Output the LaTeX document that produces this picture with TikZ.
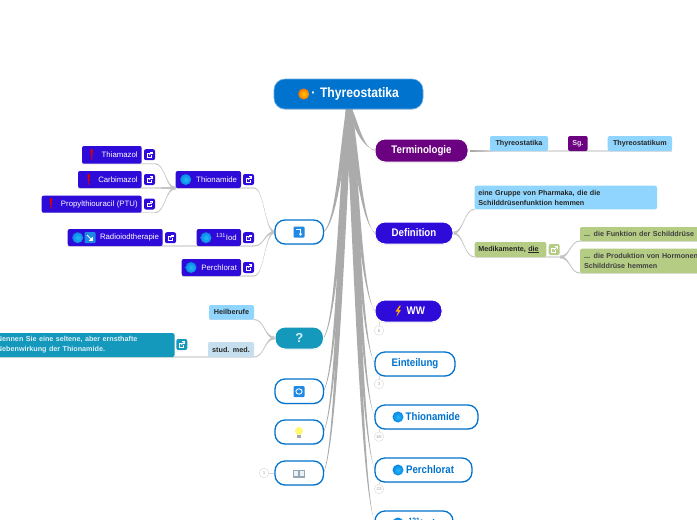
\documentclass[tikz,border=0pt]{standalone}
\usepackage{fontspec}
\setmainfont{Liberation Sans}
\newfontfamily\nb[FakeStretch=0.88]{Liberation Sans}
\usetikzlibrary{calc,shadows}
\pgfdeclarelayer{bg}
\pgfsetlayers{bg,main}
\definecolor{cRoot}{HTML}{0073CF}
\definecolor{cPurple}{HTML}{6B0080}
\definecolor{cIndigo}{HTML}{2E0BD9}
\definecolor{cTeal}{HTML}{1498BC}
\definecolor{cSky}{HTML}{90D5FD}
\definecolor{cPale}{HTML}{C5DFEE}
\definecolor{cGreen}{HTML}{B5CC84}
\definecolor{cFan}{HTML}{ABABAB}
\definecolor{cSub}{HTML}{C4C4C4}
\definecolor{cIcon}{HTML}{1E88E5}
\definecolor{cBall}{HTML}{0A86E4}
\definecolor{cBallIn}{HTML}{22B8F8}
\tikzset{
  x=1pt,y=-1pt,
  base/.style={outer sep=0pt,rounded corners=#1},
  base/.default=2pt,
  bigfont/.style={font=\nb\bfseries\fontsize{11}{13}\selectfont},
  main/.style={base=10pt,draw=white,line width=1pt,text=white,bigfont,align=center,
    drop shadow={opacity=.18,shadow xshift=0pt,shadow yshift=-1pt}},
  outl/.style={base=10pt,draw=cRoot,fill=white,line width=1.3pt,text=cRoot,bigfont,align=center,
    drop shadow={opacity=.15,shadow xshift=0pt,shadow yshift=-1pt}},
  leaf/.style={base=2pt,fill=cIndigo,text=white,align=right,font=\fontsize{7.8}{9}\selectfont},
  note/.style={base=2pt,text=black!85,align=left,font=\bfseries\fontsize{7.2}{10}\selectfont},
  extbox/.style={base=2pt,minimum size=11pt,inner sep=0pt,outer sep=0pt},
  count/.style={circle,draw=black!15,fill=white,text=black!35,minimum size=9.5pt,inner sep=0pt,
    font=\fontsize{4.5}{5}\selectfont},
  under/.style={draw=black!13,line width=1.2pt},
  stub/.style={draw=black!15,line width=.8pt},
}
\newcommand\bx[8]{%
  \pgfmathsetmacro\bw{#5-#3}\pgfmathsetmacro\bh{#6-#4}%
  \pgfmathsetmacro\cx{(#3+#5)/2}\pgfmathsetmacro\cy{(#4+#6)/2}%
  \pgfmathsetmacro\tw{#5-#3-2*#7}%
  \node[#1,minimum width=\bw pt,minimum height=\bh pt,inner xsep=#7 pt,inner ysep=0pt,text width=\tw pt] (#2) at (\cx,\cy) {#8};}
% tapered trunk from (#1) to (#2)
\newcommand\fan[2]{%
  \fill[cFan] let \p1=(#1),\p2=(#2),\n1={\x2-\x1},\n2={\y2-\y1} in
    (\x1-3pt,\y1) .. controls (\x1+0.3*\n1-2.6pt,\y1+0.4*\n2) and (\x2-0.5*\n1-.9pt,\y2-0.08*\n2) .. (\x2,\y2+.5pt)
    -- (\x2,\y2-.5pt) .. controls (\x2-0.5*\n1+.9pt,\y2-0.08*\n2) and (\x1+0.3*\n1+2.6pt,\y1+0.4*\n2) .. (\x1+3pt,\y1) -- cycle;}
% tapered side branch with horizontal ends
\newcommand\branch[2]{%
  \fill[cSub] let \p1=(#1),\p2=(#2),\n1={(\x1+\x2)/2} in
    (\x1,\y1+1.3pt) .. controls (\n1,\y1+1pt) and (\n1,\y2+.5pt) .. (\x2,\y2+.5pt)
    -- (\x2,\y2-.5pt) .. controls (\n1,\y2-.5pt) and (\n1,\y1-1pt) .. (\x1,\y1-1.3pt) -- cycle;}
\newcommand\extlink[4]{% name,cx,cy,colour
  \node[extbox,fill=#4] (#1) at (#2,#3) {};
  \draw[white,line width=.5pt] (#2+2.2,#3-1.2) -- (#2-2.5,#3-1.2) -- (#2-2.5,#3+2.6) -- (#2+1.5,#3+2.6) -- (#2+1.5,#3+.6);
  \draw[white,line width=.6pt] (#2-.6,#3+.6) -- (#2+2.8,#3-2.8);
  \draw[white,line width=.5pt] (#2+.6,#3-2.8) -- (#2+2.8,#3-2.8) -- (#2+2.8,#3-.8);}
\newcommand\ball[2]{\shade[inner color=cBallIn,outer color=cBall] (#1,#2) circle (5.5pt);}
\newcommand\bang[2]{%
  \fill[red!85!black] (#1-1.3,#2-5.6) -- (#1+1.3,#2-5.6) -- (#1+.6,#2+1.8) -- (#1-.6,#2+1.8) -- cycle;
  \fill[red!85!black] (#1,#2+3.8) circle (1.1pt);}
\begin{document}
\begin{tikzpicture}
\useasboundingbox (0,0) rectangle (697,520);
\clip (0,0) rectangle (697,520);
\begin{pgfonlayer}{bg}
\fill[white] (0,0) rectangle (697,520);
\end{pgfonlayer}
% main nodes
\bx{main,fill=cRoot,font=\nb\bfseries\fontsize{13.8}{15}\selectfont,align=right,base=11pt,draw=cRoot!60!white,line width=.6pt}{root}{274}{79}{423}{109}{24}{· Thyreostatika}
\bx{main,fill=cPurple}{term}{375}{139}{468}{162}{2}{Terminologie}
\bx{main,fill=cIndigo}{defi}{375}{222}{453}{244}{2}{Definition}
\bx{main,fill=cIndigo,align=right}{ww}{375}{300}{442}{322}{17}{WW}
\bx{outl}{eint}{375}{352}{455}{376}{2}{Einteilung}
\bx{outl,align=right}{thio}{375}{405}{478}{429}{18}{Thionamide}
\bx{outl,align=right}{perc}{375}{458}{472}{482}{18}{Perchlorat}
\bx{outl,align=right}{iod}{375}{511}{453}{535}{18}{\textsuperscript{131}Iod}
\bx{outl}{arrowb}{275}{220}{323.5}{244}{2}{}
\bx{main,fill=cTeal,text=white!85!cTeal,font=\bfseries\fontsize{13}{15}\selectfont}{quest}{275}{327}{323.5}{349}{2}{?}
\bx{outl}{cycleb}{275}{379}{323.5}{403.5}{2}{}
\bx{outl}{bulbb}{275}{420}{323.5}{444}{2}{}
\bx{outl}{bookb}{275}{461}{323.5}{485}{2}{}
% terminology row
\bx{note,fill=cSky,align=center}{syna}{490}{136}{548}{151}{1}{Thyreostatika}
\bx{note,fill=cPurple,text=white!85!cPurple,align=center}{synb}{568}{136}{587.7}{151}{1}{Sg.}
\bx{note,fill=cSky,align=center}{sync}{607.7}{136}{672}{151}{1}{Thyreostatikum}
% definition
\bx{note,fill=cSky}{dgrp}{474.7}{185.7}{657}{209.3}{3.6}{eine Gruppe von Pharmaka, die die\\Schilddrüsenfunktion hemmen}
\bx{note,fill=cGreen}{dmed}{474.7}{242}{546.3}{257}{3.6}{Medikamente, \underline{die}}
\extlink{dmedx}{554.2}{249.5}{cGreen}
\bx{note,fill=cGreen,text=black!75}{dfun}{580}{227}{720}{241}{4}{... die Funktion der Schilddrüse}
\bx{note,fill=cGreen,text=black!75}{dpro}{580}{248.7}{720}{273}{4}{... die Produktion von Hormonen\\Schilddrüse hemmen}
% left tree
\bx{leaf}{thia}{82}{146}{141.7}{163.7}{4}{Thiamazol}
\bx{leaf}{carb}{78}{171}{141.7}{188}{4}{Carbimazol}
\bx{leaf}{prop}{41.7}{195.7}{141.7}{212.7}{4}{Propylthiouracil (PTU)}
\bx{leaf}{thnm}{175.7}{171}{241}{188}{4}{Thionamide}
\bx{leaf}{radi}{67.7}{229}{162.7}{246}{3.7}{Radioiodtherapie}
\bx{leaf}{iodl}{196.7}{229}{241}{246}{4.3}{\textsuperscript{131}Iod}
\bx{leaf}{perl}{181.7}{259}{241}{276}{4}{Perchlorat}
\extlink{thiax}{149.5}{154.7}{cIndigo}
\extlink{carbx}{149.5}{179.5}{cIndigo}
\extlink{propx}{149.5}{204}{cIndigo}
\extlink{thnmx}{248.5}{179.5}{cIndigo}
\extlink{radix}{170.5}{237.7}{cIndigo}
\extlink{iodlx}{248.5}{237.7}{cIndigo}
\extlink{perlx}{248.5}{267.5}{cIndigo}
% question
\bx{note,fill=cSky,align=center}{heil}{209}{305}{254}{319.5}{1}{Heilberufe}
\bx{note,fill=cPale,align=center}{stud}{208}{342}{254}{357}{1}{stud. med.}
\bx{note,fill=cTeal,text=white!85!cTeal}{qtxt}{-10}{333}{174.5}{357}{7}{Nennen Sie eine seltene, aber ernsthafte\\Nebenwirkung der Thionamide.}
\extlink{qtxtx}{181.8}{344.5}{cTeal}
% counts
\node[count] (cww) at (379,330.5) {6};
\node[count] (cein) at (379,384) {3};
\node[count] (cthi) at (379,436.7) {60};
\node[count] (cper) at (379,489) {23};
\node[count] (cboo) at (264,473) {1};
% coordinates for free ends
\coordinate (rootb) at (349,109);
\coordinate (thiaE) at (155,163.7);
\coordinate (carbE) at (155,188);
\coordinate (propE) at (155,212.7);
\coordinate (thnmS) at (175.7,188);
\coordinate (thnmE) at (254,188);
\coordinate (radiE) at (254,246);
\coordinate (perlE) at (254,276);
\coordinate (heilE) at (254,319.5);
\coordinate (studE) at (254,357);
\coordinate (dmedE) at (560,257);
\coordinate (qtxtS) at (0,357);
\coordinate (termS) at (470,151);
\coordinate (termM) at (496,151);
% connectors
\begin{pgfonlayer}{bg}
\fan{rootb}{term.west}\fan{rootb}{defi.west}\fan{rootb}{ww.west}\fan{rootb}{eint.west}
\fan{rootb}{thio.west}\fan{rootb}{perc.west}\fan{rootb}{iod.west}
\fan{rootb}{arrowb.east}\fan{rootb}{quest.east}\fan{rootb}{cycleb.east}\fan{rootb}{bulbb.east}\fan{rootb}{bookb.east}
\shade[left color=black!35,right color=black!13] ($(termS)+(0,-1)$) rectangle ($(termM)+(0,.6)$);
\draw[under] (termM) -- (sync.south east);
\branch{defi.east}{dgrp.south west}
\branch{defi.east}{dmed.south west}
\draw[under] (dmed.south west) -- (dmedE);
\branch{dmedE}{dfun.south west}
\branch{dmedE}{dpro.south west}
\draw[under] (dfun.south west) -- (dfun.south east);
\draw[under] (dpro.south west) -- (dpro.south east);
\branch{arrowb.west}{thnmE}
\branch{arrowb.west}{radiE}
\branch{arrowb.west}{perlE}
\draw[under] (thnmS) -- (thnmE);
\draw[under] (radi.south west) -- (radiE);
\draw[under] (perl.south west) -- (perlE);
\branch{thnmS}{thiaE}
\branch{thnmS}{carbE}
\branch{thnmS}{propE}
\draw[under] (thia.south west) -- (thiaE);
\draw[under] (carb.south west) -- (carbE);
\draw[under] (prop.south west) -- (propE);
\branch{quest.west}{heilE}
\branch{quest.west}{studE}
\draw[under] (heil.south west) -- (heilE);
\draw[under] (qtxtS) -- (studE);
\draw[stub] (ww.south -| cww) -- (cww);
\draw[stub] (eint.south -| cein) -- (cein);
\draw[stub] (thio.south -| cthi) -- (cthi);
\draw[stub] (perc.south -| cper) -- (cper);
\draw[stub] (cboo) -- (bookb.west);
\end{pgfonlayer}
% icons
\shade[inner color=yellow!60!orange,outer color=orange!90!red] (303.7,94) circle (5.5pt);
\ball{398}{417}\ball{398}{470}\ball{398}{523}
\ball{185.7}{179.5}\ball{77.7}{237.7}\ball{206}{237.7}\ball{191}{267.5}
\bang{91.7}{155}\bang{88.7}{180}\bang{51}{204}
\fill[orange!70!yellow] (399.5,305.5) -- (395.5,311.5) -- (398,311.5) -- (396.5,316.5) -- (401,310) -- (398.5,310) -- (401,305.5) -- cycle;
\fill[cIcon,rounded corners=1pt] (293.5,226.5) rectangle (304.5,237.5);
\draw[white,line width=1pt] (296,229) -- (300.5,229) -- (300.5,235);
\draw[white,line width=.7pt] (299,233.6) -- (300.5,235.4) -- (302,233.6);
\fill[cIcon,rounded corners=1pt] (84.5,232.2) rectangle (95.5,243.2);
\draw[white,line width=1pt] (87,235) -- (92,240);
\fill[white] (92.8,240.8) -- (92.8,236.8) -- (88.8,240.8) -- cycle;
\fill[cIcon,rounded corners=1pt] (293.5,386) rectangle (304.5,397);
\draw[white,line width=.9pt] (295.8,391) arc (180:20:3.2);
\draw[white,line width=.9pt] (302.2,392) arc (0:-160:3.2);
\fill[yellow!55!white] (299,431) circle (4pt);
\fill[black!35] (297.4,435) rectangle (300.6,438);
\fill[cPale!75!black] (293.3,469.5) rectangle (298.7,477.5);
\fill[cPale!75!black] (299.3,469.5) rectangle (304.7,477.5);
\fill[cPale!40!white] (294.2,470.5) rectangle (298.2,475.7);
\fill[cPale!40!white] (299.8,470.5) rectangle (303.8,475.7);
\end{tikzpicture}
\end{document}
